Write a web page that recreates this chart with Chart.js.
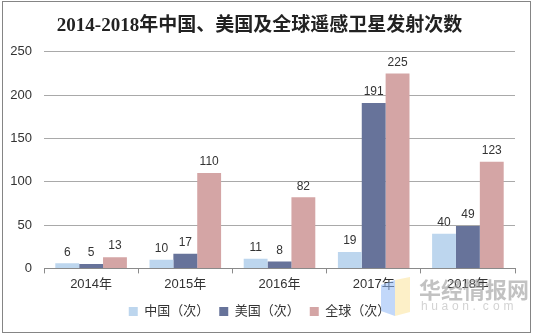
<!DOCTYPE html>
<html>
<head>
<meta charset="utf-8">
<script src="https://cdn.jsdelivr.net/npm/chart.js@4/dist/chart.umd.min.js"></script>
<style>
  html, body { margin: 0; padding: 0; background: #fff; }
  #wrap { position: relative; width: 533px; height: 334px; }
  #frame { position: absolute; left: 2px; top: 1px; width: 527px; height: 330px; border: 1.5px solid #858585; pointer-events: none; }
</style>
</head>
<body>
<div id="wrap">
  <canvas id="chart" width="533" height="334"></canvas>
  <div id="frame"></div>
</div>
<script>
const years = ['2014年', '2015年', '2016年', '2017年', '2018年'];
const china = [6, 10, 11, 19, 40];
const usa = [5, 17, 8, 191, 49];
const world = [13, 110, 82, 225, 123];
const yTicks = [0, 50, 100, 150, 200, 250];

const C = {
  china: '#BDD6EE',
  usa: '#67739A',
  world: '#D4A5A5',
  text: '#333333',
  grid: '#a9a9a9',
  axis: '#8a8a8a',
};

const SANS = "'Liberation Sans', Arial, 'Noto Sans CJK SC', sans-serif";

// value labels above each bar
const valueLabels = {
  id: 'valueLabels',
  afterDatasetsDraw(chart) {
    const ctx = chart.ctx;
    ctx.save();
    ctx.font = '12px ' + SANS;
    ctx.fillStyle = C.text;
    ctx.textAlign = 'center';
    ctx.textBaseline = 'bottom';
    chart.data.datasets.forEach((ds, i) => {
      chart.getDatasetMeta(i).data.forEach((bar, j) => {
        ctx.fillText(String(ds.data[j]), bar.x, bar.y - 5);
      });
    });
    ctx.restore();
  },
};

// faint site watermark, bottom right
const watermark = {
  id: 'watermark',
  afterDraw(chart) {
    const ctx = chart.ctx;
    ctx.save();
    ctx.globalAlpha = 0.55;
    ctx.fillStyle = '#8fb8f5';
    ctx.beginPath();
    ctx.moveTo(381, 285); ctx.lineTo(395, 280); ctx.lineTo(395, 316); ctx.lineTo(381, 311);
    ctx.closePath(); ctx.fill();
    ctx.fillStyle = '#fbe49a';
    ctx.beginPath();
    ctx.moveTo(395, 280); ctx.lineTo(410, 277); ctx.lineTo(410, 312); ctx.lineTo(395, 316);
    ctx.closePath(); ctx.fill();
    ctx.globalAlpha = 0.6;
    ctx.fillStyle = '#9a9a9a';
    ctx.textAlign = 'left';
    ctx.textBaseline = 'middle';
    ctx.font = 'bold 22px "Noto Sans CJK SC", sans-serif';
    ctx.fillText('华经情报网', 419, 290);
    ctx.font = '12px ' + SANS;
    ctx.fillStyle = '#b5b5b5';
    const s = 'huaon.com';
    let x = 421;
    for (const ch of s) { ctx.fillText(ch, x, 307); x += 10.3; }
    ctx.restore();
  },
};

new Chart(document.getElementById('chart'), {
  type: 'bar',
  data: {
    labels: years,
    datasets: [
      { label: '中国（次）', data: china, backgroundColor: C.china },
      { label: '美国（次）', data: usa, backgroundColor: C.usa },
      { label: '全球（次）', data: world, backgroundColor: C.world },
    ],
  },
  options: {
    responsive: false,
    animation: false,
    datasets: { bar: { categoryPercentage: 0.76, barPercentage: 1.0 } },
    layout: { padding: { left: 4, right: 18, top: 0, bottom: 6 } },
    scales: {
      x: {
        grid: { drawOnChartArea: false, drawTicks: true, tickLength: 5, color: C.axis },
        border: { display: true, color: C.axis, width: 1 },
        ticks: { color: C.text, font: { size: 13, family: SANS }, padding: 3 },
      },
      y: {
        min: 0,
        max: 250,
        afterBuildTicks(axis) { axis.ticks = yTicks.map((v) => ({ value: v })); },
        afterFit(axis) { axis.width = 40; },
        grid: { color: C.grid, drawTicks: false },
        border: { display: false },
        ticks: { color: C.text, font: { size: 13, family: SANS }, padding: 12 },
      },
    },
    plugins: {
      title: {
        display: true,
        text: '2014-2018年中国、美国及全球遥感卫星发射次数',
        color: '#222',
        font: { size: 19, weight: 'bold', family: "'Liberation Serif', 'Noto Sans CJK SC', serif" },
        padding: { top: 15, bottom: 14 },
      },
      legend: {
        position: 'bottom',
        labels: {
          color: C.text,
          font: { size: 13, family: SANS },
          boxWidth: 9,
          boxHeight: 9,
          padding: 10,
        },
      },
      tooltip: { enabled: false },
    },
  },
  plugins: [valueLabels, watermark],
});
</script>
</body>
</html>
